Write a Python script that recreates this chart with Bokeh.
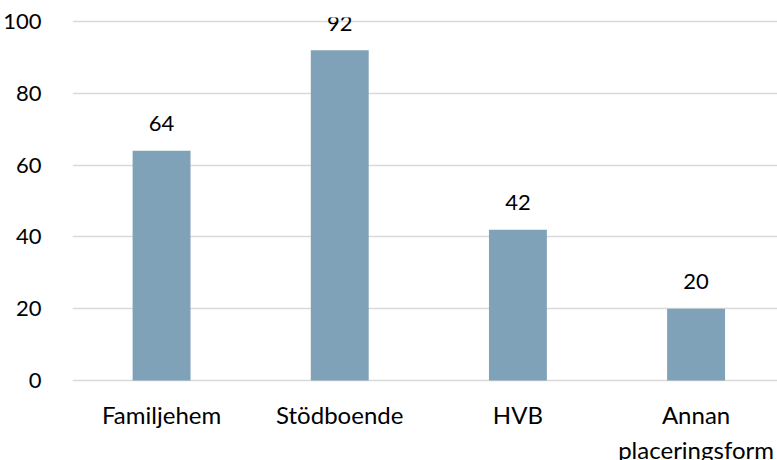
from bokeh.plotting import figure
from bokeh.models import ColumnDataSource, FixedTicker, Range1d
from bokeh.core.properties import value
from bokeh.embed import file_html
from bokeh.resources import INLINE

categories = ["Familjehem", "Stödboende", "HVB", "Annan\nplaceringsform"]
counts = [64, 92, 42, 20]
y_ticks = [0, 20, 40, 60, 80, 100]

FONT = "Lato"
BAR_COLOR = "#7FA2B8"
GRID_COLOR = "#D9D9D9"

xs = list(range(len(categories)))
src = ColumnDataSource(dict(x=xs, top=counts, label=[str(c) for c in counts],
                            cat=categories, zero=[0] * len(xs)))

p = figure(frame_width=705, frame_height=443, output_backend="svg", toolbar_location=None,
           x_range=Range1d(-0.5, 3.457), y_range=Range1d(-22.28, 101.11),
           x_axis_location=None)
p.min_border_left = 64
p.min_border_right = 0
p.min_border_top = 17
p.min_border_bottom = 0
p.outline_line_color = None
p.background_fill_color = "white"
p.border_fill_color = "white"

p.vbar(x="x", top="top", bottom=0, width=0.325, source=src,
       fill_color=BAR_COLOR, line_color=None)
p.text(x="x", y="top", text="label", source=src, text_align="center",
       text_baseline="middle", y_offset=-27, text_font=value(FONT),
       text_font_size="22px", text_color="#000000")
p.text(x="x", y="zero", text="cat", source=src, text_align="center",
       text_baseline="top", y_offset=19, text_font=value(FONT),
       text_font_size="24px", text_color="#000000", text_line_height=1.22)

p.xgrid.visible = False
p.ygrid.ticker = FixedTicker(ticks=y_ticks)
p.ygrid.grid_line_color = GRID_COLOR
p.ygrid.grid_line_width = 1.5

p.yaxis.ticker = FixedTicker(ticks=y_ticks)
p.yaxis.axis_line_color = None
p.yaxis.major_tick_line_color = None
p.yaxis.minor_tick_line_color = None
p.yaxis.major_label_standoff = 25
p.yaxis.major_label_text_font = FONT
p.yaxis.major_label_text_font_size = "22px"
p.yaxis.major_label_text_color = "#000000"

open("out.html", "w").write(file_html(p, INLINE))
